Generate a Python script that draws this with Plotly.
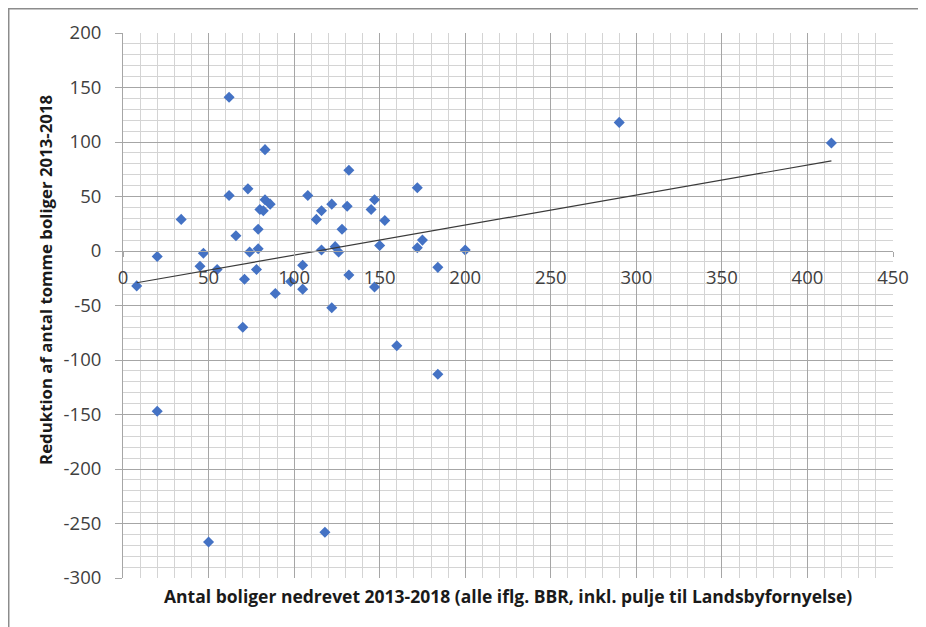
import numpy as np
import plotly.graph_objects as go

# Data
nedrevet = [62, 83, 132, 172, 73, 62, 108, 83, 86, 80, 82, 122, 131, 147, 145, 116, 113, 153,
            34, 66, 79, 128, 175, 172, 150, 116, 124, 126, 200, 74, 79, 20, 47, 45, 55, 78,
            105, 184, 8, 71, 98, 105, 89, 132, 147, 122, 70, 160, 184, 20, 118, 50, 290, 414]
reduktion = [141, 93, 74, 58, 57, 51, 51, 47, 43, 38, 37, 43, 41, 47, 38, 37, 29, 28,
             29, 14, 20, 20, 10, 3, 5, 1, 4, -1, 1, -1, 2, -5, -2, -14, -17, -17,
             -13, -15, -32, -26, -28, -35, -39, -22, -33, -52, -70, -87, -113, -147, -258, -267, 118, 99]

x_ticks = [0, 50, 100, 150, 200, 250, 300, 350, 400, 450]
y_ticks = [200, 150, 100, 50, 0, -50, -100, -150, -200, -250, -300]

x_title = "Antal boliger nedrevet 2013-2018 (alle iflg. BBR, inkl. pulje til Landsbyfornyelse)"
y_title = "Reduktion af antal tomme boliger 2013-2018"

# Linear trend line (least squares) over the data's x span
slope, intercept = np.polyfit(nedrevet, reduktion, 1)
tx = [min(nedrevet), max(nedrevet)]
ty = [slope * v + intercept for v in tx]

MAJOR = "#a6a6a6"
MINOR = "#d4d4d4"
FONT = "Open Sans"

fig = go.Figure()
fig.add_trace(go.Scatter(
    x=nedrevet, y=reduktion, mode="markers",
    marker=dict(symbol="diamond", size=8.5, color="#4472C4", line=dict(width=0)),
    showlegend=False, hoverinfo="x+y"))
fig.add_trace(go.Scatter(
    x=tx, y=ty, mode="lines", line=dict(color="#3a3a3a", width=1.2),
    showlegend=False, hoverinfo="skip"))

fig.update_layout(
    width=918, height=619,
    margin=dict(l=115, r=33, t=25, b=49),
    paper_bgcolor="white", plot_bgcolor="white",
    font=dict(family=FONT, color="#404040"),
    xaxis=dict(
        range=[0, 450], tickvals=x_ticks, ticktext=[str(v) for v in x_ticks],
        anchor="free", position=0.6,
        showgrid=True, gridcolor=MAJOR, gridwidth=1,
        minor=dict(dtick=10, showgrid=True, gridcolor=MINOR, gridwidth=1),
        zeroline=False, showline=True, linecolor=MAJOR, linewidth=1,
        ticks="outside", ticklen=5, tickcolor=MAJOR,
        ticklabelstandoff=5,
        tickfont=dict(family=FONT, size=18.5, color="#404040"),
    ),
    yaxis=dict(
        range=[-300, 200], tickvals=y_ticks, ticktext=[str(v) for v in y_ticks],
        showgrid=True, gridcolor=MAJOR, gridwidth=1,
        minor=dict(dtick=10, showgrid=True, gridcolor=MINOR, gridwidth=1),
        zeroline=False, showline=True, linecolor=MAJOR, linewidth=1,
        ticks="outside", ticklen=7, tickcolor=MAJOR,
        ticklabelstandoff=10,
        tickfont=dict(family=FONT, size=18.5, color="#404040"),
    ),
    annotations=[
        dict(text=x_title, xref="paper", yref="paper", x=0.5, y=0, yshift=-18,
             xanchor="center", yanchor="middle", showarrow=False,
             font=dict(family=FONT, size=17.5, color="#1a1a1a", weight="bold")),
        dict(text=y_title, xref="paper", yref="paper", x=-0.1, y=0.547,
             xanchor="center", yanchor="middle", textangle=-90, showarrow=False,
             font=dict(family=FONT, size=16.8, color="#1a1a1a", weight="bold")),
    ],
    shapes=[
        dict(type="rect", xref="paper", yref="paper", x0=-0.1484, y0=-0.12, x1=1.06, y1=1.0445,
             line=dict(color="#8c8c8c", width=1.5), fillcolor="rgba(0,0,0,0)", layer="below"),
    ],
)

fig.write_html("out.html")
